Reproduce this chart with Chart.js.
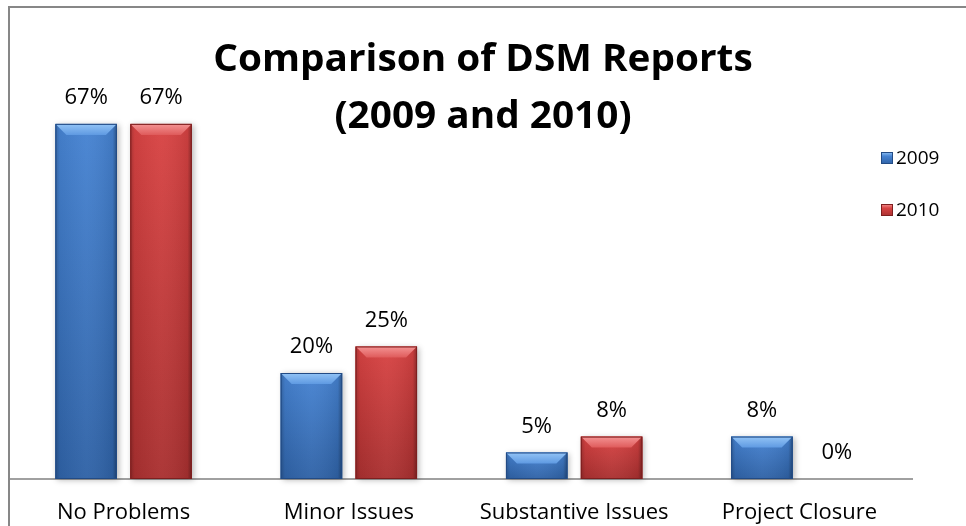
<!DOCTYPE html>
<html lang="en">
<head>
<meta charset="UTF-8">
<title>Comparison of DSM Reports</title>
<script src="https://cdn.jsdelivr.net/npm/chart.js"></script>
<style>
  html, body { margin: 0; padding: 0; background: #ffffff; }
</style>
</head>
<body>
<canvas id="chart" width="966" height="526"></canvas>
<script>
// chart data
const categories = ["No Problems", "Minor Issues", "Substantive Issues", "Project Closure"];
const seriesNames = ["2009", "2010"];
const values2009 = [67, 20, 5, 8];
const values2010 = [67, 25, 8, 0];
const titleLines = ["Comparison of DSM Reports", "(2009 and 2010)"];

const FONT = "'Open Sans', sans-serif";

// colours for the bevelled bars
const palettes = [
    { base: "#3f78c5", top: "#5f9ae2", topLight: "#93c4f6", bodyTop: "#4683d2", bodyBottom: "#2f62a6", outline: "#224b85" },
    { base: "#c93b3b", top: "#df5b5b", topLight: "#f49494", bodyTop: "#d84343", bodyBottom: "#a93030", outline: "#7e1f1f" }
];

function drawBar(ctx, l, r, t, b, pal) {
    const w = r - l, h = b - t;
    if (h < 1) return;
    const d = Math.min(11, h / 2);
    ctx.save();
    // soft shadow
    ctx.shadowColor = "rgba(0,0,0,0.28)";
    ctx.shadowBlur = 6;
    ctx.shadowOffsetX = 2;
    ctx.shadowOffsetY = 1;
    ctx.fillStyle = pal.bodyBottom;
    ctx.fillRect(l, t, w, h);
    ctx.restore();

    ctx.save();
    // body
    let g = ctx.createLinearGradient(0, t, 0, b);
    g.addColorStop(0, pal.bodyTop);
    g.addColorStop(1, pal.bodyBottom);
    ctx.fillStyle = g;
    ctx.fillRect(l, t, w, h);
    // side shading
    g = ctx.createLinearGradient(l, 0, r, 0);
    g.addColorStop(0, "rgba(0,0,0,0.22)");
    g.addColorStop(0.07, "rgba(0,0,0,0.05)");
    g.addColorStop(0.5, "rgba(255,255,255,0.04)");
    g.addColorStop(0.93, "rgba(0,0,0,0.08)");
    g.addColorStop(1, "rgba(0,0,0,0.35)");
    ctx.fillStyle = g;
    ctx.fillRect(l, t, w, h);
    // top bevel
    g = ctx.createLinearGradient(0, t, 0, t + d);
    g.addColorStop(0, pal.topLight);
    g.addColorStop(1, pal.top);
    ctx.fillStyle = g;
    ctx.beginPath();
    ctx.moveTo(l, t);
    ctx.lineTo(r, t);
    ctx.lineTo(r - d, t + d);
    ctx.lineTo(l + d, t + d);
    ctx.closePath();
    ctx.fill();
    // outline
    ctx.strokeStyle = pal.outline;
    ctx.lineWidth = 1;
    ctx.strokeRect(l + 0.5, t + 0.5, w - 1, h - 1);
    ctx.restore();
}

const decorPlugin = {
    id: "decor",
    beforeDraw(chart) {
        const ctx = chart.ctx;
        ctx.save();
        ctx.fillStyle = "#ffffff";
        ctx.fillRect(0, 0, chart.width, chart.height);
        ctx.strokeStyle = "#878787";
        ctx.lineWidth = 2;
        ctx.beginPath();
        ctx.moveTo(9, chart.height);
        ctx.lineTo(9, 7);
        ctx.lineTo(chart.width, 7);
        ctx.stroke();
        ctx.restore();
    },
    afterDatasetsDraw(chart) {
        const ctx = chart.ctx;
        chart.data.datasets.forEach((ds, i) => {
            const meta = chart.getDatasetMeta(i);
            meta.data.forEach((bar, j) => {
                const p = bar.getProps(["x", "y", "base", "width"], true);
                drawBar(ctx, p.x - p.width / 2, p.x + p.width / 2, p.y, p.base, palettes[i]);
                // value label
                ctx.save();
                ctx.fillStyle = "#000000";
                ctx.font = "22px " + FONT;
                ctx.textAlign = "center";
                ctx.textBaseline = "middle";
                ctx.fillText(ds.data[j] + "%", p.x, p.y - 26);
                ctx.restore();
            });
        });
    },
    afterDraw(chart) {
        const ctx = chart.ctx;
        ctx.save();
        // title
        ctx.fillStyle = "#000000";
        ctx.font = "bold 38px " + FONT;
        ctx.textAlign = "center";
        ctx.textBaseline = "alphabetic";
        ctx.save();
        ctx.translate(483, 0);
        ctx.scale(1.02, 1);
        ctx.fillText(titleLines[0], 0, 71);
        ctx.fillText(titleLines[1], 0, 128);
        ctx.restore();
        // legend
        ctx.font = "19px " + FONT;
        ctx.textAlign = "left";
        ctx.textBaseline = "middle";
        chart.data.datasets.forEach((ds, i) => {
            const y = 158 + i * 52;
            const pal = palettes[i];
            const g = ctx.createLinearGradient(0, y - 6, 0, y + 6);
            g.addColorStop(0, pal.topLight);
            g.addColorStop(0.35, pal.bodyTop);
            g.addColorStop(1, pal.bodyBottom);
            ctx.fillStyle = g;
            ctx.fillRect(881, y - 6, 12, 12);
            ctx.strokeStyle = pal.outline;
            ctx.lineWidth = 1;
            ctx.strokeRect(881.5, y - 5.5, 11, 11);
            ctx.fillStyle = "#000000";
            ctx.fillText(ds.label, 896, y + 1);
        });
        ctx.restore();
    }
};

new Chart(document.getElementById("chart"), {
    type: "bar",
    data: {
        labels: categories,
        datasets: [
            { label: seriesNames[0], data: values2009, backgroundColor: palettes[0].base },
            { label: seriesNames[1], data: values2010, backgroundColor: palettes[1].base }
        ]
    },
    options: {
        responsive: false,
        animation: false,
        layout: { padding: { left: 11, right: 54, top: 55, bottom: 0 } },
        datasets: {
            bar: { categoryPercentage: 0.665, barPercentage: 0.82 }
        },
        scales: {
            x: {
                grid: { display: false, drawTicks: false },
                border: { display: true, color: "#a0a0a0", width: 2 },
                ticks: { color: "#000000", font: { family: FONT, size: 22 }, padding: 21, maxRotation: 0 },
                afterFit(scale) { scale.height = 47; }
            },
            y: { display: false, min: 0, max: 80 }
        },
        plugins: {
            legend: { display: false },
            tooltip: { enabled: false },
            title: { display: false }
        }
    },
    plugins: [decorPlugin]
});
</script>
</body>
</html>
